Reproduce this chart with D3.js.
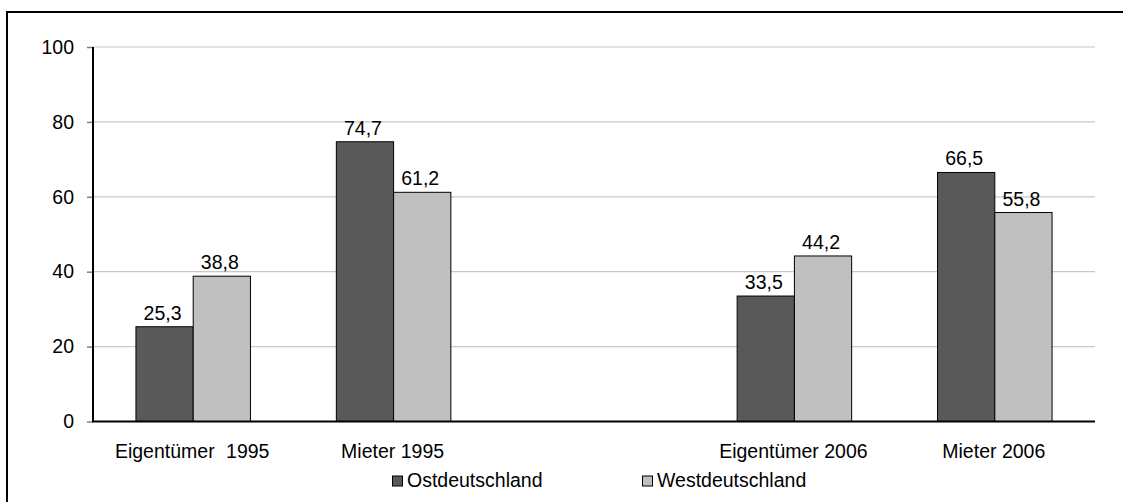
<!DOCTYPE html>
<html>
<head>
<meta charset="utf-8">
<script src="https://cdn.jsdelivr.net/npm/d3@7"></script>
<style>
  html, body { margin: 0; padding: 0; background: #fff; overflow: hidden; }
  svg { display: block; }
  text { font-family: "Liberation Sans", Arial, sans-serif; fill: #000; }
</style>
</head>
<body>
<svg id="chart" width="1123" height="502"></svg>
<script>
const categories = ["Eigentümer 1995", "Mieter 1995", "", "Eigentümer 2006", "Mieter 2006"];
const seriesNames = ["Ostdeutschland", "Westdeutschland"];
const ostValues = [25.3, 74.7, null, 33.5, 66.5];
const westValues = [38.8, 61.2, null, 44.2, 55.8];
const yTicks = [0, 20, 40, 60, 80, 100];
const colors = ["#595959", "#c0c0c0"];

(function () {
const svg = d3.select("#chart");
const fmt = v => d3.format(".1f")(v).replace(".", ",");
const FS = 19.5;

// chart frame
svg.append("rect")
  .attr("x", 7).attr("y", 12)
  .attr("width", 1200).attr("height", 600)
  .attr("fill", "none").attr("stroke", "#000").attr("stroke-width", 2);

const pLeft = 93, pRight = 1095, pTop = 47, pBottom = 421.5;
const x = d3.scaleBand().domain(categories.map((c, i) => i)).range([pLeft, pRight]).paddingInner(0).paddingOuter(0);
const y = d3.scaleLinear().domain([0, 100]).range([pBottom, pTop]);

const bw = x.bandwidth() / 3.5;
const off = x.bandwidth() * 0.75 / 3.5;
const x1 = d3.scaleBand().domain([0, 1]).range([off, off + 2 * bw]);

// gridlines
svg.append("g").selectAll("line").data(yTicks.filter(t => t > 0)).join("line")
  .attr("x1", pLeft).attr("x2", pRight)
  .attr("y1", d => y(d)).attr("y2", d => y(d))
  .attr("stroke", "#c8c8c8").attr("stroke-width", 1.2);

// y axis ticks
const yAxis = d3.axisLeft(y).tickValues(yTicks).tickSize(6).tickPadding(13).tickFormat(d3.format("d"));
const yg = svg.append("g").attr("transform", `translate(${pLeft},0)`).call(yAxis);
yg.select(".domain").remove();
yg.selectAll(".tick line").attr("stroke", "#808080").attr("stroke-width", 1.5);
yg.selectAll(".tick text").attr("font-size", FS).attr("font-family", "Liberation Sans, Arial, sans-serif").attr("fill", "#000");

// bars
const data = categories.map((c, i) => ({ i, vals: [ostValues[i], westValues[i]] }));
const groups = svg.append("g").selectAll("g").data(data).join("g")
  .attr("transform", d => `translate(${x(d.i)},0)`);

groups.selectAll("rect").data(d => d.vals.map((v, s) => ({ v, s })).filter(e => e.v != null)).join("rect")
  .attr("x", e => x1(e.s))
  .attr("width", x1.bandwidth())
  .attr("y", e => y(e.v))
  .attr("height", e => y(0) - y(e.v))
  .attr("fill", e => colors[e.s])
  .attr("stroke", "#000").attr("stroke-width", 1);

groups.selectAll("text.lbl").data(d => d.vals.map((v, s) => ({ v, s })).filter(e => e.v != null)).join("text")
  .attr("class", "lbl")
  .attr("x", e => x1(e.s) + x1.bandwidth() / 2 - 2)
  .attr("y", e => y(e.v) - 7)
  .attr("text-anchor", "middle")
  .attr("font-size", FS)
  .text(e => fmt(e.v));

// y axis line
svg.append("line").attr("x1", pLeft).attr("x2", pLeft).attr("y1", pTop).attr("y2", pBottom)
  .attr("stroke", "#000").attr("stroke-width", 2);
// x axis line
svg.append("line").attr("x1", pLeft - 1).attr("x2", pRight).attr("y1", pBottom).attr("y2", pBottom)
  .attr("stroke", "#000").attr("stroke-width", 2);

// category labels
svg.append("g").selectAll("text").data(categories.map((c, i) => ({ c, i }))).join("text")
  .attr("x", d => x(d.i) + x.bandwidth() / 2 - 1)
  .attr("y", 458)
  .attr("text-anchor", "middle")
  .attr("font-size", FS)
  .attr("word-spacing", d => d.i === 0 ? 6 : 0)
  .text(d => d.c);

// legend
const legendX = [392, 642];
const lg = svg.append("g").selectAll("g").data(seriesNames).join("g")
  .attr("transform", (d, i) => `translate(${legendX[i]},476)`);
lg.append("rect").attr("x", 0.5).attr("y", 0).attr("width", 10).attr("height", 10)
  .attr("fill", (d, i) => colors[i]).attr("stroke", "#000").attr("stroke-width", 1);
lg.append("text").attr("x", 15).attr("y", 11).attr("font-size", FS).text(d => d);
})();
</script>
</body>
</html>
